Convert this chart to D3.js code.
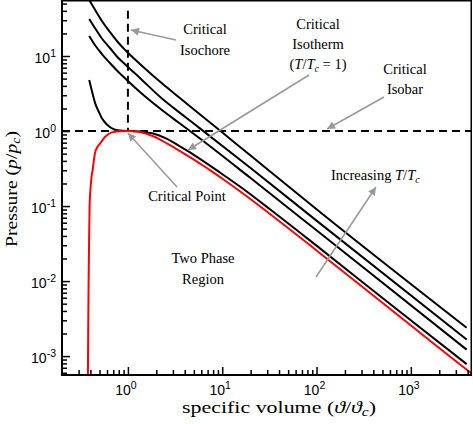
<!DOCTYPE html>
<html><head><meta charset="utf-8">
<script src="https://cdn.jsdelivr.net/npm/d3@7"></script>
<style>body{margin:0;background:#fff}</style>
</head><body><svg id="c" width="473" height="424"></svg>
<script>
// ---- data (specific volume v/vc, pressure p/pc) ----
const isotherms = ["1", "1.5", "2", "3"];           // T/Tc of the black isotherms
const vT1  = [0.3887, 0.4151, 0.4499, 0.4926, 0.5300, 0.5988, 0.6765, 0.7834, 0.9071, 1.0, 1.186, 1.514, 1.855, 2.469, 3.559, 4.194, 5.801, 9.450, 15.41, 32.05, 108.7, 766.3, 3906];
const pT1  = [4.786, 3.415, 2.341, 1.792, 1.477, 1.221, 1.086, 1.025, 1.006, 1.0, 0.9939, 0.9638, 0.9261, 0.8116, 0.6252, 0.5529, 0.4259, 0.2805, 0.1820, 0.0907, 0.02729, 0.003897, 0.000782];
const vT15 = [0.3887, 0.4467, 0.5300, 0.6443, 0.7646, 0.9362, 1.341, 2.294, 3.559, 5.801, 19.67, 108.7, 3906];
const pT15 = [18.48, 14.02, 10.63, 8.065, 6.408, 5.012, 3.311, 1.905, 1.259, 0.7943, 0.2399, 0.04365, 0.001221];
const vT2  = [0.3887, 0.4467, 0.5300, 0.6443, 0.7646, 0.9362, 1.341, 2.294, 3.559, 5.801, 19.67, 108.7, 3906];
const pT2  = [31.14, 23.62, 17.11, 12.79, 9.847, 7.703, 5.088, 2.713, 1.748, 1.086, 0.3262, 0.0588, 0.00166];
const vT3  = [0.3587, 0.3887, 0.4467, 0.5300, 0.6443, 0.7646, 0.9362, 1.341, 2.294, 3.559, 6.093, 9.450, 19.67, 108.7, 3906];
const pT3  = [67.1, 55.8, 41.69, 29.29, 20.89, 15.85, 12.02, 7.822, 4.325, 2.754, 1.585, 1.015, 0.4786, 0.0832, 0.002384];
const vSat = [0.3757, 0.3765, 0.3793, 0.3830, 0.3877, 0.3925, 0.4002, 0.4101, 0.4223, 0.4359, 0.4467, 0.4749, 0.5083, 0.5744, 0.6765, 0.8026, 1.0, 1.246, 1.514, 1.855, 2.294, 2.789, 3.559, 4.194, 5.801, 7.406, 10.68, 15.41, 27.22, 52.24, 108.7, 766.3, 4415, 6900];
const pSat = [0.000352, 0.000558, 0.00222, 0.01, 0.0352, 0.1009, 0.1634, 0.2362, 0.3020, 0.4106, 0.5043, 0.6119, 0.6855, 0.8395, 0.9608, 0.9908, 1.0, 0.9878, 0.9318, 0.8525, 0.7468, 0.6506, 0.5412, 0.4786, 0.3687, 0.3020, 0.2195, 0.1575, 0.0920, 0.0488, 0.02355, 0.003352, 0.000588, 0.000383];
const isochoreV = [1, 1];
const isochoreP = [40, 1];
const isobarV = [0.2, 4450];
const isobarP = [1, 1];
const xMajor = [1, 10, 100, 1000];
const yMajor = [0.001, 0.01, 0.1, 1, 10];

// ---- layout ----
const svg = d3.select("#c");
const L = 62, R = 472, T = 0, B = 375;
const x = d3.scaleLog().domain([0.2, 4450]).range([L, R]);
const y = d3.scaleLog().domain([5.6e-4, 55.8]).range([B, T]);

const defs = svg.append("defs");
defs.append("clipPath").attr("id", "clip")
  .append("rect").attr("x", L).attr("y", T).attr("width", R - L).attr("height", B - T);
defs.append("marker").attr("id", "arr").attr("viewBox", "0 0 10 10").attr("refX", 10).attr("refY", 5)
  .attr("markerWidth", 11).attr("markerHeight", 8).attr("markerUnits", "userSpaceOnUse")
  .attr("orient", "auto")
  .append("path").attr("d", "M0,0 L10,5 L0,10 z").attr("fill", "#999");

function minors(lo, hi) {
  const out = [];
  for (let e = -5; e <= 5; e++) for (let k = 2; k <= 9; k++) {
    const v = k * Math.pow(10, e);
    if (v > lo * 1.0001 && v < hi) out.push(v);
  }
  return out;
}
const xMinor = minors(0.2, 4450);
const yMinor = minors(5.6e-4, 55.8);

const plot = svg.append("g").attr("clip-path", "url(#clip)");
const line = d3.line().x(d => x(d[0])).y(d => y(d[1])).curve(d3.curveMonotoneX);
const straight = d3.line().x(d => x(d[0])).y(d => y(d[1]));
const zip = (a, b) => a.map((v, i) => [v, b[i]]);

plot.append("path").attr("d", straight(zip(isobarV, isobarP))).attr("fill", "none")
  .attr("stroke", "#000").attr("stroke-width", 2).attr("stroke-dasharray", "8,5");
plot.append("path").attr("d", straight(zip(isochoreV, isochoreP)))
  .attr("fill", "none").attr("stroke", "#000").attr("stroke-width", 2).attr("stroke-dasharray", "8,5");

[[vT1, pT1], [vT15, pT15], [vT2, pT2], [vT3, pT3]].forEach(([vv, pp]) => {
  plot.append("path").attr("d", line(zip(vv, pp))).attr("fill", "none")
    .attr("stroke", "#000").attr("stroke-width", 2);
});
plot.append("path").attr("d", line(zip(vSat, pSat))).attr("fill", "none")
  .attr("stroke", "#ff0000").attr("stroke-width", 2);

// axes (ticks point inward)
const axX = svg.append("g").attr("transform", `translate(0,${B})`);
axX.call(d3.axisBottom(x).tickValues(xMinor).tickSize(-5).tickFormat(""));
const axXM = svg.append("g").attr("transform", `translate(0,${B})`);
axXM.call(d3.axisBottom(x).tickValues(xMajor).tickSize(-8).tickFormat(""));
const axY = svg.append("g").attr("transform", `translate(${L},0)`);
axY.call(d3.axisLeft(y).tickValues(yMinor).tickSize(-5).tickFormat(""));
const axYM = svg.append("g").attr("transform", `translate(${L},0)`);
axYM.call(d3.axisLeft(y).tickValues(yMajor).tickSize(-8).tickFormat(""));
svg.selectAll(".domain").remove();
svg.selectAll(".tick line").attr("stroke", "#000").attr("stroke-width", 1.5);

// frame
svg.append("line").attr("x1", L).attr("x2", L).attr("y1", T).attr("y2", B + 1).attr("stroke", "#000").attr("stroke-width", 2);
svg.append("line").attr("x1", L - 1).attr("x2", R).attr("y1", B).attr("y2", B).attr("stroke", "#000").attr("stroke-width", 2);
svg.append("line").attr("x1", L).attr("x2", R).attr("y1", T + 0.75).attr("y2", T + 0.75).attr("stroke", "#000").attr("stroke-width", 1.5);
svg.append("line").attr("x1", R - 0.75).attr("x2", R - 0.75).attr("y1", T).attr("y2", B).attr("stroke", "#000").attr("stroke-width", 1.5);

// tick labels
const sans = "'Liberation Sans', Arial, sans-serif";
function pow10(g, e) {
  g.append("tspan").text("10");
  g.append("tspan").attr("dy", "-6").attr("font-size", "10.5px").text(e);
}
xMajor.forEach(v => {
  const t = svg.append("text").attr("x", x(v) - 2).attr("y", 395).attr("text-anchor", "middle")
    .attr("font-family", sans).attr("font-size", "14px");
  pow10(t, String(Math.round(Math.log10(v))));
});
yMajor.forEach(v => {
  const t = svg.append("text").attr("x", 56).attr("y", y(v) + 7).attr("text-anchor", "end")
    .attr("font-family", sans).attr("font-size", "14px");
  pow10(t, String(Math.round(Math.log10(v))));
});

// axis titles
const serif = "'Liberation Serif', 'Times New Roman', serif";
const xt = svg.append("text").attr("x", 279).attr("y", 413).attr("text-anchor", "middle")
  .attr("font-family", serif).attr("font-size", "17px")
  .attr("textLength", 194).attr("lengthAdjust", "spacingAndGlyphs");
xt.append("tspan").text("specific volume (");
xt.append("tspan").attr("font-style", "italic").text("ϑ");
xt.append("tspan").text("/");
xt.append("tspan").attr("font-style", "italic").text("ϑ");
xt.append("tspan").attr("font-style", "italic").attr("font-size", "12px").attr("dy", 3).text("c");
xt.append("tspan").attr("dy", -3).text(")");

const yt = svg.append("text").attr("transform", "translate(17,189) rotate(-90)").attr("text-anchor", "middle")
  .attr("font-family", serif).attr("font-size", "17px")
  .attr("textLength", 116).attr("lengthAdjust", "spacingAndGlyphs");
yt.append("tspan").text("Pressure (");
yt.append("tspan").attr("font-style", "italic").text("p");
yt.append("tspan").text("/");
yt.append("tspan").attr("font-style", "italic").text("p");
yt.append("tspan").attr("font-style", "italic").attr("font-size", "12px").attr("dy", 3).text("c");
yt.append("tspan").attr("dy", -3).text(")");

// annotations
function label(lines, cx, cy0, dy) {
  lines.forEach((l, i) => {
    const t = svg.append("text").attr("x", cx).attr("y", cy0 + i * dy).attr("text-anchor", "middle")
      .attr("font-family", serif).attr("font-size", "14.5px");
    l.forEach(seg => {
      const s = t.append("tspan").text(seg.t);
      if (seg.i) s.attr("font-style", "italic");
      if (seg.sub) s.attr("font-size", "10px").attr("dy", 3);
      if (seg.up) s.attr("dy", -3);
    });
  });
}
function arrow(x1, y1, x2, y2) {
  svg.append("line").attr("x1", x1).attr("y1", y1).attr("x2", x2).attr("y2", y2)
    .attr("stroke", "#999").attr("stroke-width", 1.5).attr("marker-end", "url(#arr)");
}
label([[{t: "Critical"}], [{t: "Isochore"}]], 205, 34, 21);
arrow(176, 40, x(1) + 3, 30);
label([[{t: "Critical"}], [{t: "Isotherm"}], [{t: "("}, {t: "T", i: 1}, {t: "/"}, {t: "T", i: 1}, {t: "c", i: 1, sub: 1}, {t: " = 1)", up: 1}]], 318, 29, 20);
arrow(309, 75, 188, 150);
label([[{t: "Critical"}], [{t: "Isobar"}]], 405, 74, 20);
arrow(384, 97, 327, 129);
label([[{t: "Critical Point"}]], 187, 201, 20);
arrow(177, 187, x(1), y(1) + 2);
label([[{t: "Two Phase"}], [{t: "Region"}]], 203, 263, 21);
const inc = svg.append("text").attr("x", 331).attr("y", 180).attr("font-family", serif).attr("font-size", "14.5px");
inc.append("tspan").text("Increasing ");
inc.append("tspan").attr("font-style", "italic").text("T");
inc.append("tspan").text("/");
inc.append("tspan").attr("font-style", "italic").text("T");
inc.append("tspan").attr("font-style", "italic").attr("font-size", "10px").attr("dy", 3).text("c");
arrow(316, 277, 376, 187);
</script></body></html>
